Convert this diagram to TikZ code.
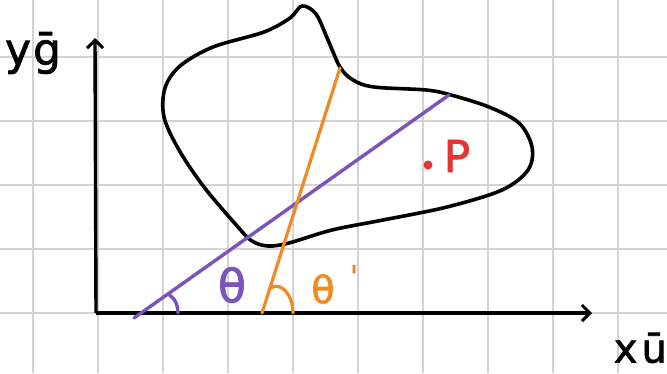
\documentclass[tikz,border=0pt]{standalone}
\usepackage{fontspec}
\setmainfont{DejaVu Sans}
\newfontfamily\hand[FakeBold=1.6]{DejaVu Sans}
\usetikzlibrary{arrows.meta}
\definecolor{gridc}{RGB}{212,212,212}
\definecolor{purp}{RGB}{122,84,184}
\definecolor{oran}{RGB}{240,138,36}
\definecolor{redp}{RGB}{228,52,52}
\tikzset{
  gridline/.style={draw=gridc, line width=1.6pt},
  axisline/.style={draw=black, line width=3.4pt, -{Straight Barb[length=8pt,width=16pt,line width=3pt]}},
  blob/.style={draw=black, line width=3.6pt, line join=round},
  pline/.style={draw=purp, line width=3.4pt, line cap=round},
  oline/.style={draw=oran, line width=3.2pt, line cap=round},
  lbl/.style={inner sep=0pt},
}
\begin{document}
\begin{tikzpicture}[x=1pt,y=-1pt]
\useasboundingbox (0,0) rectangle (667,373);
\fill[white] (0,0) rectangle (667,373);
% grid
\foreach \gx in {33,98,163,228,293,358,423,488,553,618}
  \draw[gridline] (\gx,0) -- (\gx,373);
\foreach \gy in {57,121,185,249,313}
  \draw[gridline] (0,\gy) -- (667,\gy);
% axes
\coordinate (O) at (96,313);
\coordinate (xend) at (592,313);
\coordinate (yend) at (95,38);
\draw[axisline] (O) -- (xend);
\draw[axisline] (O) -- (yend);
% blob
\draw[blob] plot[smooth cycle, tension=0.55] coordinates {
  (302,6) (316,14) (328,40) (340,67) (353,80) (374,87) (426,90) (451,95)
  (489,107) (519,123) (532,147) (528,170) (502,190) (447,207) (383,220)
  (332,230) (289,243) (268,246) (252,241) (238,227) (204,187) (179,150)
  (164,117) (165,88) (180,66) (213,47) (264,32) (290,18)};
% purple line
\coordinate (pa) at (134,318);
\coordinate (pb) at (449,95);
\draw[pline] (pa) -- (pb);
\coordinate (pa1) at (168,294);
\coordinate (pa2) at (178,313);
\draw[pline] (pa1) .. controls (176,299) and (178,306) .. (pa2);
% orange line
\coordinate (oa) at (262,313);
\coordinate (ob) at (340,68);
\draw[oline] (oa) -- (ob);
\coordinate (oa1) at (269,289);
\coordinate (oa2) at (293,313);
\draw[oline] (oa1) .. controls (281,280) and (293,295) .. (oa2);
% labels
\node[lbl, text=purp, font=\hand\fontsize{46}{46}\selectfont] (th) at (232,285) {θ};
\node[lbl, text=oran, font=\hand\fontsize{38}{38}\selectfont] (thp) at (323,289) {θ};
\node[lbl, text=oran, font=\hand\fontsize{30}{30}\selectfont] (prime) at (354,276) {'};
\fill[redp] (428,165) circle (4.5pt);
\node[lbl, text=redp, font=\hand\fontsize{44}{44}\selectfont] (P) at (457,156) {P};
\node[lbl, font=\hand\fontsize{44}{44}\selectfont] (ylab) at (33,53) {y\hspace{2pt}ḡ};
\node[lbl, font=\hand\fontsize{40}{40}\selectfont, anchor=east] (xlab) at (667,348) {x\hspace{4pt}ū};
\end{tikzpicture}
\end{document}
